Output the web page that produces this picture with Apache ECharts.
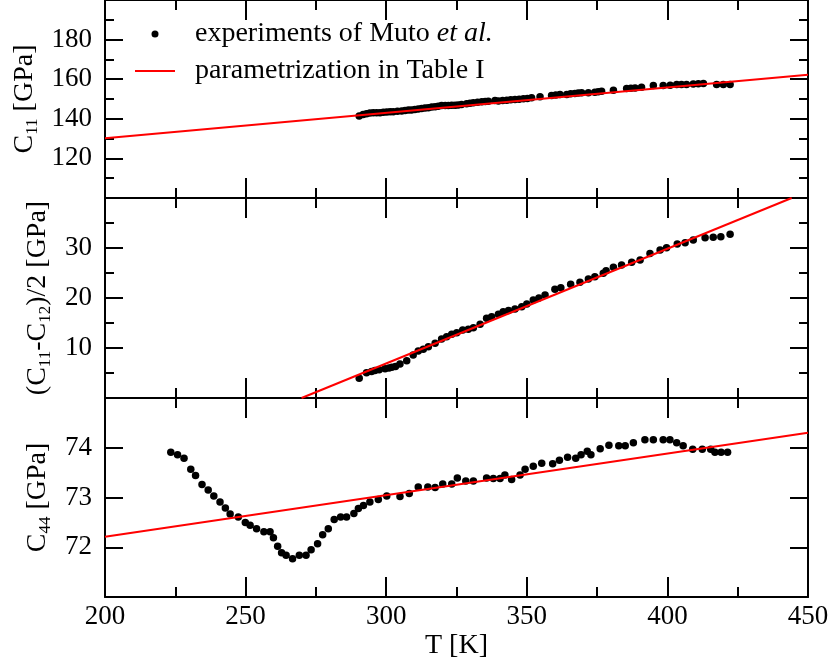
<!DOCTYPE html>
<html><head><meta charset="utf-8">
<script src="https://cdn.jsdelivr.net/npm/echarts@6/dist/echarts.min.js"></script>
<style>html,body{margin:0;padding:0;background:#fff}#c{width:832px;height:663px}</style>
</head><body><div id="c"></div>
<script>
// ---- data ----
const xTicks = [200, 250, 300, 350, 400, 450];
const expName = 'experiments of Muto et al.';
const fitName = 'parametrization in Table I';

const tC11 = [290.4,291.8,293.0,294.2,295.4,296.6,297.8,299.0,300.2,301.4,302.5,304.0,305.5,306.7,307.9,309.0,310.2,311.4,312.6,313.8,315.0,316.2,317.4,318.5,319.7,321.0,322.1,323.3,324.5,325.6,326.8,328.6,329.8,331.0,332.5,334.0,335.2,336.3,338.7,339.9,341.4,342.9,344.3,345.8,347.3,348.8,350.2,351.7,354.7,358.8,360.3,361.8,364.2,365.6,367.1,368.3,369.5,371.9,374.2,375.4,376.6,380.8,385.5,387.0,388.5,390.8,395.0,398.5,401.0,403.3,405.0,406.8,409.2,411.0,412.8,417.5,419.9,422.3];
const vC11 = [141.4,142.2,142.6,142.9,143.1,143.0,143.1,143.3,143.4,143.5,143.6,143.8,143.9,144.2,144.4,144.5,144.7,145.0,145.2,145.4,145.6,145.9,146.1,146.4,146.7,146.7,146.7,146.8,146.9,147.0,147.2,147.6,147.8,148.1,148.3,148.6,148.7,148.9,149.2,149.0,149.2,149.4,149.6,149.7,149.9,150.1,150.3,150.6,151.1,151.8,152.0,152.3,152.3,152.6,152.8,153.0,153.1,153.1,153.4,153.6,153.9,154.4,155.3,155.4,155.6,155.9,156.8,156.8,157.0,157.3,157.3,157.3,157.6,157.7,157.8,157.3,157.3,157.3];
const fitC11T = [200, 450];
const fitC11V = [130.2, 162.3];

const tCp = [290.4,293.0,294.8,296.0,297.5,299.6,301.0,302.0,303.3,304.9,307.3,309.6,311.4,313.2,315.0,317.4,319.7,321.5,323.3,325.1,327.2,329.2,331.0,333.4,335.7,337.5,339.9,341.6,343.5,345.8,348.2,350.0,352.3,354.3,356.5,360.0,362.1,365.6,368.9,371.9,374.2,377.2,378.2,380.8,383.7,387.3,390.3,393.8,397.4,399.7,403.5,406.3,409.2,413.4,416.3,419.0,422.3];
const vCp = [3.93,5.07,5.3,5.5,5.65,5.85,6.0,6.13,6.3,6.8,7.47,8.6,9.4,9.73,10.27,10.93,11.8,12.27,12.73,13.07,13.6,13.73,14.07,14.73,15.93,16.27,16.73,17.27,17.5,17.8,18.27,18.8,19.6,20.0,20.6,21.73,22.07,22.73,23.13,23.8,24.27,24.93,25.47,26.13,26.6,27.13,27.6,28.9,29.6,30.07,30.8,31.07,31.6,32.07,32.13,32.27,32.73];
const fitCpT = [269.9, 444.2];
const fitCpV = [0, 40];

const tC44 = [223.4,225.8,228.1,230.5,232.2,234.5,236.7,238.7,240.9,242.8,244.5,247.4,249.9,251.6,253.9,256.5,258.7,259.9,261.4,262.8,264.4,266.7,269.1,271.5,273.3,275.6,277.4,279.4,281.5,283.8,285.9,288.5,290.1,291.9,294.2,297.2,300.2,304.9,308.2,311.4,314.8,317.4,320.1,323.3,325.3,328.3,331.0,335.7,338.1,340.5,342.2,344.6,347.6,349.4,352.3,355.3,359.2,361.6,364.5,367.4,369.3,371.5,372.8,376.1,379.2,382.7,385.0,387.9,392.0,395.0,398.5,400.9,403.3,405.6,409.0,412.4,415.4,416.9,419.1,421.4];
const vC44 = [73.91,73.86,73.79,73.57,73.44,73.26,73.15,73.03,72.91,72.79,72.67,72.61,72.50,72.44,72.37,72.31,72.31,72.19,72.02,71.89,71.84,71.77,71.84,71.84,71.95,72.07,72.25,72.37,72.56,72.61,72.61,72.68,72.78,72.84,72.91,72.96,73.03,73.02,73.08,73.21,73.21,73.20,73.27,73.27,73.39,73.33,73.33,73.39,73.38,73.38,73.45,73.36,73.45,73.57,73.63,73.69,73.68,73.75,73.81,73.79,73.86,73.93,73.86,73.98,74.05,74.04,74.04,74.10,74.16,74.16,74.16,74.16,74.10,74.04,73.97,73.97,73.97,73.91,73.91,73.91];
const fitC44T = [200, 450];
const fitC44V = [72.21, 74.30];

// ---- build ----
const F = 'Liberation Serif';
const zip = (a, b) => a.map((v, i) => [v, b[i]]);
const gridsDef = [
  {top: 0, height: 198},
  {top: 198, height: 200},
  {top: 398, height: 199}
];
const yDefs = [
  {min: 100, max: 200, interval: 20, minor: true, name: '{m|C}{s|11}{m| [GPa]}', gap: 63},
  {min: 0, max: 40, interval: 10, minor: true, name: '{m|(C}{s|11}{m|-C}{s|12}{m|)/2 [GPa]}', gap: 48},
  {min: 71, max: 75, interval: 1, minor: false, name: '{m|C}{s|44}{m| [GPa]}', gap: 50}
];
const nameRich = {
  m: {fontFamily: F, fontSize: 28, color: '#000', lineHeight: 32},
  s: {fontFamily: F, fontSize: 17, color: '#000', lineHeight: 8, verticalAlign: 'bottom'}
};
const grid = gridsDef.map(g => ({left: 105, right: 24, top: g.top, height: g.height}));
const xAxis = [];
const yAxis = [];
gridsDef.forEach((g, i) => {
  ['bottom', 'top'].forEach(pos => {
    const isLabelAxis = (i === 2 && pos === 'bottom');
    xAxis.push({
      type: 'value', gridIndex: i, position: pos, min: xTicks[0], max: xTicks[xTicks.length - 1], interval: 50,
      axisLine: {show: true, onZero: false, lineStyle: {color: '#000', width: 2}},
      axisTick: {show: true, inside: true, length: 20, lineStyle: {color: '#000', width: 2}},
      minorTick: {show: true, splitNumber: 2, length: 10, lineStyle: {color: '#000', width: 2}},
      splitLine: {show: false},
      axisLabel: {show: isLabelAxis, fontFamily: F, fontSize: 27, color: '#000', margin: 6},
      name: isLabelAxis ? 'T [K]' : '', nameLocation: 'middle', nameGap: 35,
      nameTextStyle: {fontFamily: F, fontSize: 28, color: '#000'}
    });
  });
  const d = yDefs[i];
  ['left', 'right'].forEach(pos => {
    const isL = pos === 'left';
    yAxis.push({
      type: 'value', gridIndex: i, position: pos, min: d.min, max: d.max, interval: d.interval,
      axisLine: {show: true, onZero: false, lineStyle: {color: '#000', width: 2}},
      axisTick: {show: true, inside: true, length: 18, lineStyle: {color: '#000', width: 2}},
      minorTick: {show: d.minor, splitNumber: 2, length: 9, lineStyle: {color: '#000', width: 2}},
      splitLine: {show: false},
      axisLabel: {show: isL, showMinLabel: false, showMaxLabel: false, fontFamily: F, fontSize: 27, color: '#000', margin: 13},
      name: isL ? d.name : '', nameLocation: 'middle', nameGap: d.gap,
      nameTextStyle: {fontFamily: F, fontSize: 28, color: '#000', rich: nameRich}
    });
  });
});
const expData = [zip(tC11, vC11), zip(tCp, vCp), zip(tC44, vC44)];
const fitData = [zip(fitC11T, fitC11V), zip(fitCpT, fitCpV), zip(fitC44T, fitC44V)];
const series = [];
for (let i = 0; i < 3; i++) {
  series.push({
    name: fitName, type: 'line', xAxisIndex: 2 * i, yAxisIndex: 2 * i, data: fitData[i],
    symbol: 'none', lineStyle: {color: '#ff0000', width: 2}, itemStyle: {color: '#ff0000'}, silent: true, z: 3
  });
  series.push({
    name: expName, type: 'scatter', xAxisIndex: 2 * i, yAxisIndex: 2 * i, data: expData[i],
    symbol: 'circle', symbolSize: 7.5, itemStyle: {color: '#000', opacity: 1}, silent: true, z: 2
  });
}
const legTxt = {
  fontFamily: F, fontSize: 28, color: '#000', lineHeight: 28,
  rich: {
    n: {fontFamily: F, fontSize: 28, color: '#000', lineHeight: 28},
    i: {fontFamily: F, fontSize: 28, color: '#000', fontStyle: 'italic', lineHeight: 28}
  }
};
const option = {
  animation: false,
  backgroundColor: '#fff',
  grid: grid,
  xAxis: xAxis,
  yAxis: yAxis,
  legend: [
    {data: [{name: expName, icon: 'circle'}], left: 151.5, top: 20, padding: 0, orient: 'vertical',
     itemWidth: 7, itemHeight: 7, selectedMode: false,
     formatter: () => '{n|experiments of Muto} {i|et al.}',
     textStyle: Object.assign({}, legTxt, {padding: [0, 0, 0, 31.5]})},
    {data: [{name: fitName, icon: 'rect'}], left: 135, top: 57, padding: 0, orient: 'vertical',
     itemWidth: 40, itemHeight: 2, selectedMode: false,
     formatter: (n) => '{n|' + n + '}',
     textStyle: Object.assign({}, legTxt, {padding: [0, 0, 0, 15]})}
  ],
  series: series
};
const chart = echarts.init(document.getElementById('c'), null, {renderer: 'canvas'});
chart.setOption(option);
</script>
</body></html>
